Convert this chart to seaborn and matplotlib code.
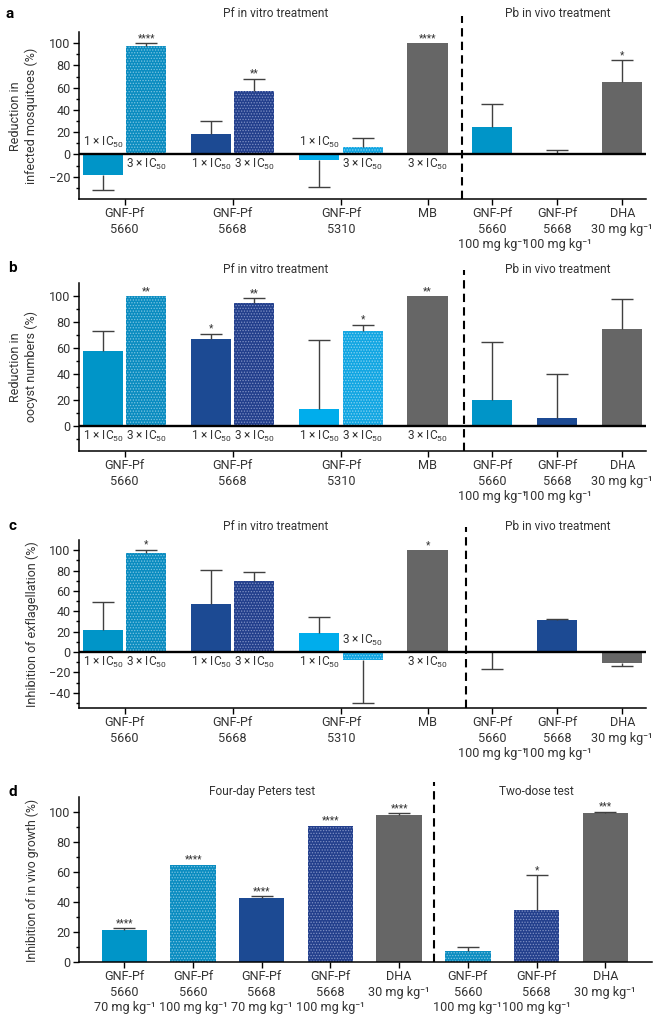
import matplotlib
matplotlib.use("Agg")
import matplotlib.pyplot as plt
import matplotlib.transforms as mtransforms
import pandas as pd
import seaborn as sns

# ---- data ----
# panels a-c share the same bar layout
vitro_keys = ["5660", "5660d", "5668", "5668d", "5310", "5310d", "MB", "5660", "5668", "DHA"]
abc_pos = [0, 2, 5, 7, 10, 12, 15, 18, 21, 24]
abc_ticks = [1, 6, 11, 15, 18, 21, 24]
abc_ticklabels = ["GNF-Pf\n5660", "GNF-Pf\n5668", "GNF-Pf\n5310", "MB",
                  "GNF-Pf\n5660\n100 mg kg⁻¹", "GNF-Pf\n5668\n100 mg kg⁻¹",
                  "DHA\n30 mg kg⁻¹"]
ic_labels = ["1 × IC$_{50}$", "3 × IC$_{50}$", "1 × IC$_{50}$", "3 × IC$_{50}$",
             "1 × IC$_{50}$", "3 × IC$_{50}$", "3 × IC$_{50}$", "", "", ""]

a_vals = [-18.5, 97, 18, 57, -5, 7, 100, 24.5, 1.5, 65]
a_err = [-32, 100, 30.5, 68, -29, 15, 100, 45.5, 4, 84.5]
a_stars = ["", "****", "", "**", "", "", "****", "", "", "*"]

b_vals = [58, 100, 67, 95, 13.5, 73, 100, 20, 6, 75]
b_err = [73.5, 100, 71, 98.5, 66, 78, 100, 65, 40, 97.5]
b_stars = ["", "**", "*", "**", "", "*", "**", "", "", ""]

c_vals = [22, 97.7, 47.5, 70, 19, -8, 100, 0, 31, -11]
c_err = [49, 100.3, 81, 79, 34, -50, 100, -17, 32.8, -13.5]
c_stars = ["", "*", "", "", "", "", "*", "", "", ""]

d_keys = ["5660", "5660d", "5668", "5668d", "DHA", "5660d", "5668d", "DHA"]
d_pos = [0, 1, 2, 3, 4, 5, 6, 7]
d_vals = [21.2, 64.7, 42.4, 91, 98.2, 7.3, 34.4, 99.3]
d_err = [22.5, 64.9, 43.7, 91, 99.3, 9.7, 58, 100.2]
d_stars = ["****", "****", "****", "****", "****", "", "*", "***"]
d_ticklabels = ["GNF-Pf\n5660\n70 mg kg⁻¹", "GNF-Pf\n5660\n100 mg kg⁻¹",
                "GNF-Pf\n5668\n70 mg kg⁻¹", "GNF-Pf\n5668\n100 mg kg⁻¹",
                "DHA\n30 mg kg⁻¹", "GNF-Pf\n5660\n100 mg kg⁻¹",
                "GNF-Pf\n5668\n100 mg kg⁻¹", "DHA\n30 mg kg⁻¹"]

palette = {"5660": "#0095c8", "5660d": "#0a8cc0", "5668": "#1c4a93", "5668d": "#233f8c",
           "5310": "#00adec", "5310d": "#12a6e2", "MB": "#666666", "DHA": "#666666"}
dots = {"5660d": "#7cc4e2", "5668d": "#7e90c4", "5310d": "#86d2f2"}

sns.set_theme(style="ticks")
plt.rcParams["font.family"] = ["Roboto", "DejaVu Sans"]
plt.rcParams["mathtext.fontset"] = "custom"
plt.rcParams["mathtext.rm"] = "Roboto"
plt.rcParams["mathtext.it"] = "Roboto:italic"
plt.rcParams["mathtext.bf"] = "Roboto:bold"
plt.rcParams["hatch.linewidth"] = 0.6
TXT = "#333333"

W, H = 662, 1023
fig = plt.figure(figsize=(W / 100, H / 100), dpi=100)


def rect(l, t, r, b):
    return [l / W, 1 - b / H, (r - l) / W, (b - t) / H]


def panel(ax, pos, keys, vals, ends, stars, width, ylim, major, minor, ticks, ticklabels,
          divider, dash_top, headers, head_y, labels=None):
    df = pd.DataFrame({"pos": pos, "value": vals, "key": keys})
    sns.barplot(data=df, x="pos", y="value", hue="key", palette=palette, native_scale=True,
                dodge=False, width=width, errorbar=None, legend=False, saturation=1,
                linewidth=0, ax=ax)
    for p in ax.patches:
        cx = p.get_x() + p.get_width() / 2
        i = min(range(len(pos)), key=lambda j: abs(pos[j] - cx))
        p.set_zorder(2)
        if keys[i] in dots:
            p.set_hatch("......")
            p.set_edgecolor(dots[keys[i]])
            p.set_linewidth(0)
    # one-sided error bars
    for x, v, e in zip(pos, vals, ends):
        if abs(e - v) > 0.3:
            ax.vlines(x, v, e, color="#404040", lw=1, zorder=3)
            ax.plot([x], [e], marker="_", ms=16, mew=1, color="#404040", zorder=3)
    for x, v, e, s in zip(pos, vals, ends, stars):
        if s:
            ax.annotate(s, (x, max(v, e)), xytext=(0, 1.5), textcoords="offset points",
                        ha="center", va="baseline", fontsize=7.2, color=TXT)
    if labels:
        for x, v, lab in zip(pos, vals, labels):
            if not lab:
                continue
            if v < 0:
                ax.annotate(lab, (x, 0), xytext=(0, 3), textcoords="offset points",
                            ha="center", va="bottom", fontsize=8.6, color=TXT)
            else:
                ax.annotate(lab, (x, 0), xytext=(0, -2), textcoords="offset points",
                            ha="center", va="top", fontsize=8.6, color=TXT)
    ax.set_ylim(*ylim)
    ax.set_yticks(major)
    ax.set_yticks(minor, minor=True)
    ax.set_xticks(ticks)
    ax.set_xticklabels(ticklabels, linespacing=1.25)
    ax.set_xlabel("")
    ax.set_ylabel("")
    ax.tick_params(axis="both", which="major", direction="out", length=4, width=1,
                   color="black", labelsize=9.1, labelcolor=TXT, pad=2)
    ax.tick_params(axis="y", which="minor", direction="out", length=2.5, width=1, color="black")
    sns.despine(ax=ax)
    for s in ("left", "bottom"):
        ax.spines[s].set_color("black")
        ax.spines[s].set_linewidth(1.1)
    if ylim[0] < 0:
        ax.axhline(0, color="black", lw=1.7, zorder=4)
    tr = mtransforms.blended_transform_factory(ax.transData, ax.transAxes)
    ax.plot([divider, divider], [0, dash_top], transform=tr, clip_on=False,
            color="black", lw=1.5, ls=(0, (4, 2.5)), zorder=5)
    for hx, htxt in headers:
        ax.text(hx, head_y, htxt, transform=tr, ha="center", va="center",
                fontsize=8.6, color=TXT)


ax_a = fig.add_axes(rect(79, 32, 646, 199))
panel(ax_a, abc_pos, vitro_keys, a_vals, a_err, a_stars, 0.925, (-40, 110),
      range(-20, 101, 20), range(-30, 100, 20), abc_ticks, abc_ticklabels,
      16.6, 1.096, [(8, "Pf in vitro treatment"), (21, "Pb in vivo treatment")], 1.11,
      ic_labels)
ax_a.set_xlim(-1.11, 25.1)

ax_b = fig.add_axes(rect(79, 283, 646, 451))
panel(ax_b, abc_pos, vitro_keys, b_vals, b_err, b_stars, 0.925, (-19, 110),
      range(0, 101, 20), range(-10, 100, 20), abc_ticks, abc_ticklabels,
      16.7, 1.08, [(8, "Pf in vitro treatment"), (21, "Pb in vivo treatment")], 1.083,
      ic_labels)
ax_b.set_xlim(-1.11, 25.1)

ax_c = fig.add_axes(rect(79, 540, 646, 708))
panel(ax_c, abc_pos, vitro_keys, c_vals, c_err, c_stars, 0.925, (-55, 110),
      range(-40, 101, 20), range(-50, 100, 20), abc_ticks, abc_ticklabels,
      16.8, 1.08, [(8, "Pf in vitro treatment"), (21, "Pb in vivo treatment")], 1.083,
      ic_labels)
ax_c.set_xlim(-1.11, 25.1)

ax_d = fig.add_axes(rect(79, 797, 652, 962))
panel(ax_d, d_pos, d_keys, d_vals, d_err, d_stars, 0.66, (0, 110),
      range(0, 101, 20), range(10, 100, 20), d_pos, d_ticklabels,
      4.5, 1.09, [(2, "Four-day Peters test"), (6, "Two-dose test")], 1.036)
ax_d.set_xlim(-0.66, 7.68)

# panel letters and y labels
for letter, (x, y) in zip("abcd", [(10, 14), (12, 268), (12, 526), (13, 792)]):
    fig.text(x / W, 1 - y / H, letter, fontsize=11, fontweight="bold", ha="center",
             va="center", color="black")
fig.text(23.5 / W, 1 - 116 / H, "Reduction in\ninfected mosquitoes (%)", rotation=90,
         ha="center", va="center", fontsize=9, color=TXT, linespacing=1.3)
fig.text(23.5 / W, 1 - 367 / H, "Reduction in\noocyst numbers (%)", rotation=90,
         ha="center", va="center", fontsize=9, color=TXT, linespacing=1.3)
fig.text(32 / W, 1 - 624 / H, "Inhibition of exflagellation (%)", rotation=90,
         ha="center", va="center", fontsize=9, color=TXT)
fig.text(32 / W, 1 - 880 / H, "Inhibition of in vivo growth (%)", rotation=90,
         ha="center", va="center", fontsize=8.8, color=TXT)

fig.savefig("out.png", dpi=100)
